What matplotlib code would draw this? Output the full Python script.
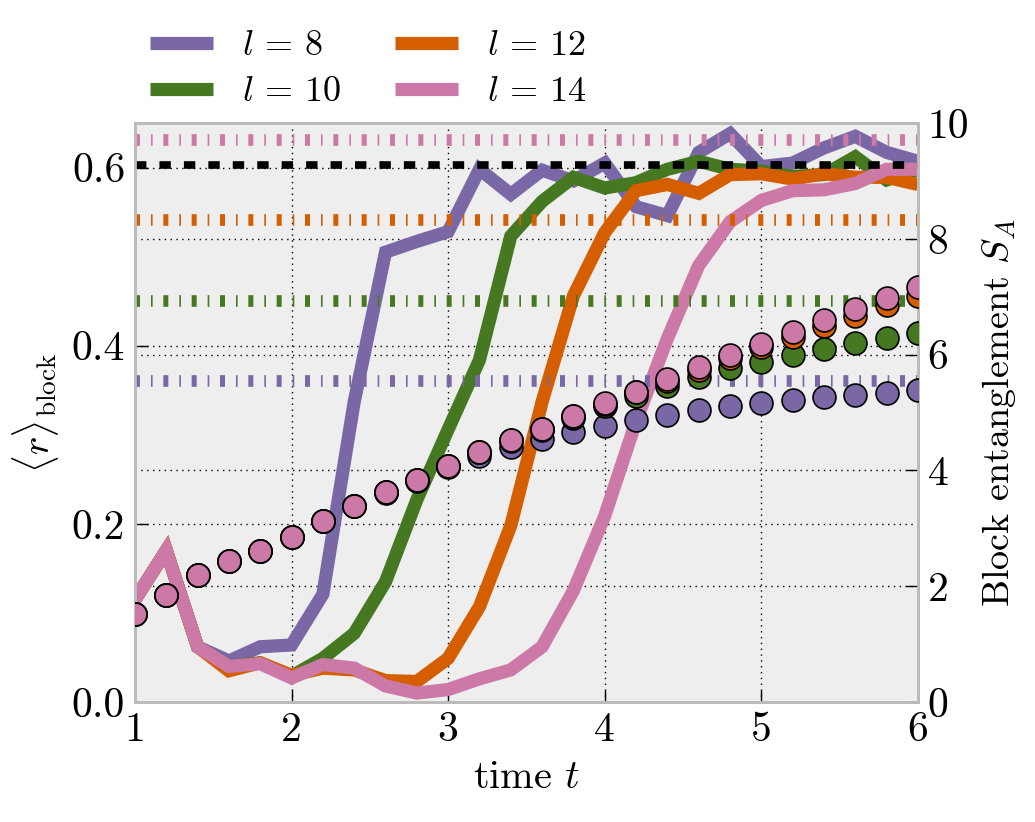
import numpy as np
import matplotlib
matplotlib.use('Agg')
import matplotlib.pyplot as plt
from matplotlib.transforms import blended_transform_factory

# ---------------- data ----------------
time = [1.0, 1.2, 1.4, 1.6, 1.8, 2.0, 2.2, 2.4, 2.6, 2.8, 3.0, 3.2, 3.4,
        3.6, 3.8, 4.0, 4.2, 4.4, 4.6, 4.8, 5.0, 5.2, 5.4, 5.6, 5.8, 6.0]

labels = [r'$l\,=\,8$', r'$l\,=\,10$', r'$l\,=\,12$', r'$l\,=\,14$']
colors = ['#7A68A6', '#467821', '#D55E00', '#CC79A7']

# <r>_block (left axis)
r_l8 = [0.115, 0.170, 0.062, 0.046, 0.062, 0.064, 0.121, 0.337, 0.505, 0.517,
        0.528, 0.598, 0.570, 0.597, 0.585, 0.605, 0.556, 0.546, 0.617, 0.638,
        0.601, 0.605, 0.622, 0.635, 0.617, 0.607]
r_l10 = [0.115, 0.170, 0.062, 0.040, 0.044, 0.029, 0.049, 0.077, 0.135, 0.227,
         0.306, 0.384, 0.523, 0.562, 0.589, 0.577, 0.583, 0.598, 0.607, 0.598,
         0.596, 0.590, 0.592, 0.612, 0.586, 0.598]
r_l12 = [0.115, 0.170, 0.062, 0.035, 0.044, 0.030, 0.038, 0.036, 0.024, 0.023,
         0.049, 0.107, 0.198, 0.337, 0.456, 0.527, 0.574, 0.581, 0.571, 0.592,
         0.593, 0.587, 0.593, 0.589, 0.589, 0.581]
r_l14 = [0.115, 0.170, 0.062, 0.040, 0.043, 0.027, 0.042, 0.038, 0.018, 0.010,
         0.014, 0.026, 0.036, 0.062, 0.125, 0.209, 0.315, 0.408, 0.490, 0.539,
         0.563, 0.574, 0.575, 0.582, 0.598, 0.598]
r_values = [r_l8, r_l10, r_l12, r_l14]
r_reference = 0.603   # black dashed level

# Block entanglement S_A (right axis)
S_l8 = [1.52, 1.84, 2.19, 2.43, 2.61, 2.85, 3.12, 3.39, 3.61, 3.82, 4.06, 4.25,
        4.40, 4.55, 4.66, 4.77, 4.87, 4.96, 5.04, 5.11, 5.17, 5.22, 5.27, 5.31,
        5.34, 5.38]
S_l10 = [1.52, 1.84, 2.19, 2.43, 2.61, 2.85, 3.12, 3.39, 3.62, 3.83, 4.08, 4.31,
         4.51, 4.69, 4.90, 5.11, 5.28, 5.46, 5.61, 5.77, 5.88, 5.99, 6.10, 6.20,
         6.29, 6.38]
S_l12 = [1.52, 1.84, 2.19, 2.43, 2.61, 2.85, 3.12, 3.39, 3.62, 3.83, 4.08, 4.31,
         4.52, 4.72, 4.94, 5.15, 5.35, 5.55, 5.74, 5.94, 6.13, 6.31, 6.49, 6.67,
         6.85, 7.01]
S_l14 = [1.52, 1.84, 2.19, 2.43, 2.61, 2.85, 3.12, 3.39, 3.62, 3.83, 4.08, 4.31,
         4.52, 4.72, 4.94, 5.16, 5.36, 5.57, 5.79, 6.00, 6.19, 6.39, 6.59, 6.79,
         6.98, 7.16]
S_values = [S_l8, S_l10, S_l12, S_l14]
S_max = [5.54, 6.93, 8.32, 9.70]   # dash-dot levels

x_ticks = [1, 2, 3, 4, 5, 6]
left_ticks = [0.0, 0.2, 0.4, 0.6]
right_ticks = [0, 2, 4, 6, 8, 10]

# ---------------- style ----------------
plt.rcParams.update({
    'font.family': 'serif',
    'font.serif': ['cmr10'],
    'mathtext.fontset': 'cm',
    'axes.formatter.use_mathtext': True,
    'axes.unicode_minus': False,
    'lines.scale_dashes': False,
})

fig = plt.figure(figsize=(10.35, 8.22), dpi=100)
ax = fig.add_axes([0.1304, 0.146, 0.7565, 0.7044])
ax.set_facecolor('#eeeeee')
ax2 = ax.twinx()

ax.set_xlim(1, 6)
ax.set_ylim(0, 0.65)
ax2.set_ylim(0, 10)

grid_kw = dict(color='k', linestyle=(0, (1.0, 3.2)), linewidth=1.0)
ax.set_axisbelow(True)
ax.grid(True, **grid_kw)
ax2.grid(False)
# right-axis grid drawn underneath data
tr = blended_transform_factory(ax.transAxes, ax2.transData)
for v in right_ticks[1:-1]:
    ax.plot([0, 1], [v, v], transform=tr, zorder=0.6, **grid_kw)

handles = []
for rv, c, lab in zip(r_values, colors, labels):
    h, = ax.plot(time, rv, color=c, lw=9.5, solid_joinstyle='miter',
                 solid_capstyle='butt', label=lab, zorder=2)
    handles.append(h)
ax.axhline(r_reference, color='k', lw=5.5, linestyle=(0, (8.2, 9.4)),
           dash_capstyle='butt', zorder=3)

for sm, c in zip(S_max, colors):
    ax2.axhline(sm, color=c, lw=8.4, linestyle=(0, (3.6, 7.9, 1.2, 7.7)),
                dash_capstyle='butt', zorder=2)
for sv, c in zip(S_values, colors):
    ax2.plot(time, sv, 'o', ms=16.5, mfc=c, mec='k', mew=1.2, zorder=3)

ax.set_xticks(x_ticks)
ax.set_yticks(left_ticks)
ax2.set_yticks(right_ticks)
ax.set_xticklabels([str(t) for t in x_ticks])
ax.set_yticklabels([f'{t:.1f}' for t in left_ticks])
ax2.set_yticklabels([str(t) for t in right_ticks])

tick_kw = dict(direction='in', length=9, width=1.0, color='k', labelsize=30, pad=7)
ax.tick_params(axis='x', which='both', top=False, bottom=True, **tick_kw)
ax.tick_params(axis='y', which='both', left=True, right=False, **tick_kw)
ax2.tick_params(axis='y', which='both', right=True, left=False, **tick_kw)

for a in (ax, ax2):
    for s in a.spines.values():
        s.set_color('#bcbcbc')
        s.set_linewidth(2)

ax.set_xlabel(r'time $t$', fontsize=29, labelpad=8)
ax.set_ylabel(r'$\langle r\rangle_{\rm block}$', fontsize=28, labelpad=8)
ax2.set_ylabel(r'Block entanglement $S_A$', fontsize=27.5, labelpad=8)

fig.legend(handles, labels, loc='upper left', bbox_to_anchor=(0.124, 0.99),
           ncol=2, frameon=False, fontsize=26, handlelength=1.75,
           handletextpad=0.8, columnspacing=1.5, labelspacing=0.38,
           borderaxespad=0.2)

fig.savefig('out.png', dpi=100)
